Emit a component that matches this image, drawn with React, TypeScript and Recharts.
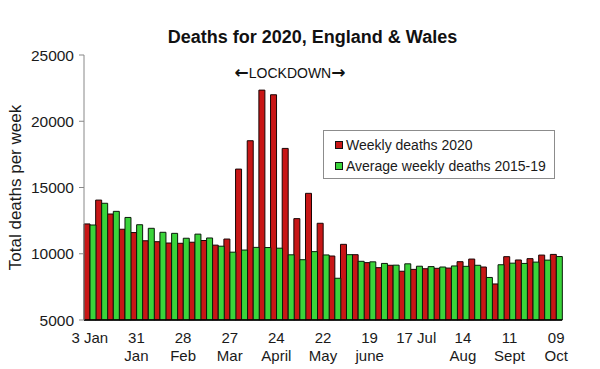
import { BarChart, Bar, XAxis, YAxis, Legend } from "recharts";

const FONT = '"Liberation Sans", Arial, sans-serif';

// week ending dates, England & Wales 2020 (weeks 1-41)
const weekEnding = [
  "3 Jan", "10 Jan", "17 Jan", "24 Jan", "31 Jan", "7 Feb", "14 Feb", "21 Feb", "28 Feb",
  "6 Mar", "13 Mar", "20 Mar", "27 Mar", "3 Apr", "10 Apr", "17 Apr", "24 Apr",
  "1 May", "8 May", "15 May", "22 May", "29 May", "5 Jun", "12 Jun", "19 Jun", "26 Jun",
  "3 Jul", "10 Jul", "17 Jul", "24 Jul", "31 Jul", "7 Aug", "14 Aug", "21 Aug", "28 Aug",
  "4 Sep", "11 Sep", "18 Sep", "25 Sep", "2 Oct", "9 Oct",
];

const deaths2020 = [
  12250, 14050, 13000, 11850, 11600, 10980, 10910, 10810, 10790, 10870, 11000, 10650, 11110,
  16390, 18530, 22350, 22000, 17950, 12650, 14560, 12300, 9830,
  10710, 9930, 9330, 8950, 9130, 8680, 8820, 8870, 8900, 8920, 9400, 9600, 9000, 7720,
  9780, 9530, 9630, 9900, 9950,
];

const avgDeaths1519 = [
  12170, 13810, 13200, 12740, 12190, 11920, 11620, 11540, 11170, 11480, 11190, 10570, 10120,
  10280, 10480, 10470, 10420, 9920, 9550, 10160, 9910, 8150,
  9930, 9430, 9390, 9270, 9140, 9240, 9060, 9030, 9000, 9080, 9050, 9130, 8210, 9170,
  9290, 9270, 9370, 9520, 9790,
];

const yTicks = [5000, 10000, 15000, 20000, 25000];

// labelled weeks and their (one or two line) tick text
const tickWeeks = ["3 Jan", "31 Jan", "28 Feb", "27 Mar", "24 Apr", "22 May", "19 Jun", "17 Jul", "14 Aug", "11 Sep", "9 Oct"];
const tickLabels = [
  ["3 Jan"], ["31", "Jan"], ["28", "Feb"], ["27", "Mar"], ["24", "April"], ["22", "May"],
  ["19", "june"], ["17 Jul"], ["14", "Aug"], ["11", "Sept"], ["09", "Oct"],
];

const legendOrder = ["Weekly deaths 2020", "Average weekly deaths 2015-19"];

const data = weekEnding.map((w, i) => ({
  week: w,
  d2020: deaths2020[i],
  avg: avgDeaths1519[i],
}));

function WeekTick({ x, y, payload }: any) {
  const i = tickWeeks.indexOf(payload.value);
  if (i < 0) return null;
  return (
    <text x={x} y={y} textAnchor="middle" fontSize={15} fill="#1a1a1a" fontFamily={FONT}>
      {tickLabels[i].map((line, k) => (
        <tspan key={k} x={x} dy={k === 0 ? 21 : 18}>
          {line}
        </tspan>
      ))}
    </text>
  );
}

function LegendBox({ payload }: any) {
  const items = [...(payload || [])].sort(
    (a: any, b: any) => legendOrder.indexOf(a.value) - legendOrder.indexOf(b.value),
  );
  return (
    <div
      style={{
        boxSizing: "border-box",
        width: 232,
        height: 49,
        border: "1px solid #8c8c8c",
        background: "#fff",
        padding: "3px 0 0 11px",
        fontFamily: FONT,
        fontSize: 14,
        color: "#1a1a1a",
      }}
    >
      {items.map((p: any) => (
        <div key={p.value} style={{ display: "flex", alignItems: "center", height: 21 }}>
          <span
            style={{
              display: "inline-block",
              width: 6,
              height: 6,
              background: p.color,
              border: "1px solid #111",
              marginRight: 3,
            }}
          />
          {p.value}
        </div>
      ))}
    </div>
  );
}

const arrowStyle = {
  fontFamily: '"DejaVu Sans", sans-serif',
  fontWeight: "bold" as const,
  fontSize: 17,
  lineHeight: "14px",
};

export default function App() {
  return (
    <div style={{ position: "absolute", left: 0, top: 0, width: 600, height: 369, background: "#fff" }}>
      <div
        style={{
          position: "absolute",
          left: 0,
          width: 625,
          top: 27,
          textAlign: "center",
          fontFamily: FONT,
          fontWeight: "bold",
          fontSize: 18,
          color: "#111",
        }}
      >
        Deaths for 2020, England &amp; Wales
      </div>
      <div
        style={{
          position: "absolute",
          left: 220,
          width: 140,
          top: 65,
          textAlign: "center",
          fontFamily: FONT,
          fontSize: 14,
          lineHeight: "16px",
          color: "#111",
          whiteSpace: "nowrap",
        }}
      >
        <span style={arrowStyle}>←</span>LOCKDOWN<span style={arrowStyle}>→</span>
      </div>
      <BarChart
        width={600}
        height={369}
        data={data}
        margin={{ top: 55, right: 38, left: 24, bottom: 9 }}
        barCategoryGap={0}
        barGap={0}
        style={{ position: "absolute", left: 0, top: 0 }}
      >
        <XAxis
          dataKey="week"
          interval={0}
          tick={<WeekTick />}
          tickLine={false}
          tickSize={0}
          height={40}
          axisLine={{ stroke: "#000", strokeWidth: 1.5 }}
        />
        <XAxis
          xAxisId="top"
          dataKey="week"
          orientation="top"
          height={0}
          tick={false}
          tickLine={false}
          axisLine={{ stroke: "#9a9a9a" }}
        />
        <YAxis
          domain={[5000, 25000]}
          ticks={yTicks}
          width={60}
          tickSize={5}
          tickMargin={5}
          tick={{ fontSize: 15.5, fill: "#1a1a1a", fontFamily: FONT }}
          tickLine={{ stroke: "#888" }}
          axisLine={{ stroke: "#888" }}
          label={{
            value: "Total deaths per week",
            angle: -90,
            position: "left",
            offset: 9,
            style: { textAnchor: "middle", fontSize: 17, fill: "#1a1a1a", fontFamily: FONT },
          }}
        />
        <YAxis
          yAxisId="right"
          orientation="right"
          domain={[5000, 25000]}
          width={0}
          tick={false}
          tickLine={false}
          axisLine={{ stroke: "#9a9a9a" }}
        />
        <Legend
          layout="horizontal"
          verticalAlign="middle"
          align="center"
          content={<LegendBox />}
          wrapperStyle={{ left: 323, top: 130, width: 232, height: 49 }}
        />
        <Bar
          dataKey="d2020"
          name="Weekly deaths 2020"
          fill="#c81616"
          stroke="#1a0505"
          strokeWidth={1}
          isAnimationActive={false}
        />
        <Bar
          dataKey="avg"
          name="Average weekly deaths 2015-19"
          fill="#3ad43a"
          stroke="#0a1a0a"
          strokeWidth={1}
          isAnimationActive={false}
        />
      </BarChart>
    </div>
  );
}
